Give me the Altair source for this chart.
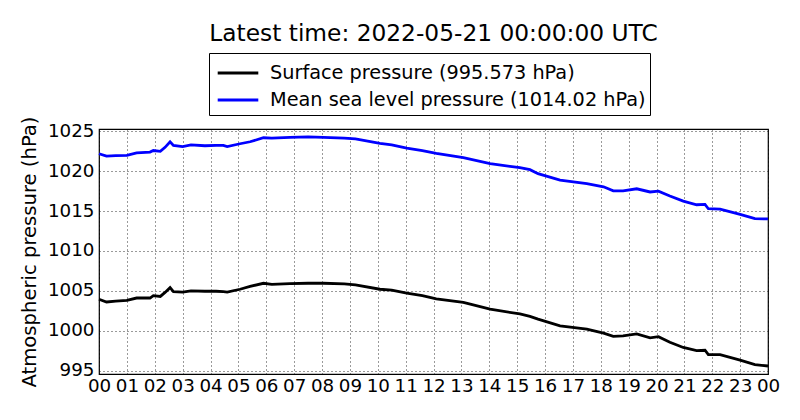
import altair as alt
import pandas as pd

# hours since 2022-05-20 00:00 UTC
hours = [0.0, 0.27, 0.6, 1.0, 1.35, 1.83, 1.95, 2.2, 2.37, 2.55, 2.67, 3.0, 3.3, 3.8,
         4.2, 4.46, 4.6, 5.06, 5.42, 5.9, 6.2, 6.85, 7.5, 8.05, 8.8, 9.2, 10.08, 10.5,
         11.04, 11.6, 12.1, 13.07, 14.03, 15.1, 15.46, 15.75, 16.54, 17.5, 18.1, 18.45,
         18.8, 19.29, 19.77, 20.07, 20.48, 20.96, 21.44, 21.74, 21.86, 22.28, 23.0,
         23.53, 24.0]
msl = [1022.2, 1021.9, 1021.95, 1022.0, 1022.3, 1022.4, 1022.6, 1022.5, 1023.0, 1023.7,
       1023.25, 1023.1, 1023.3, 1023.2, 1023.25, 1023.25, 1023.1, 1023.45, 1023.7, 1024.2,
       1024.15, 1024.25, 1024.3, 1024.25, 1024.15, 1024.05, 1023.5, 1023.3, 1022.9,
       1022.6, 1022.25, 1021.7, 1020.95, 1020.45, 1020.2, 1019.7, 1018.9, 1018.45,
       1018.05, 1017.55, 1017.55, 1017.8, 1017.4, 1017.5, 1016.9, 1016.25, 1015.8,
       1015.85, 1015.3, 1015.25, 1014.6, 1014.05, 1014.02]
surface = [1003.95, 1003.6, 1003.7, 1003.8, 1004.1, 1004.1, 1004.4, 1004.3, 1004.8, 1005.4,
           1004.9, 1004.85, 1005.0, 1004.95, 1004.95, 1004.9, 1004.85, 1005.2, 1005.55,
           1005.95, 1005.8, 1005.9, 1005.95, 1005.95, 1005.87, 1005.75, 1005.2, 1005.1,
           1004.7, 1004.4, 1004.0, 1003.55, 1002.7, 1002.1, 1001.8, 1001.45, 1000.6,
           1000.2, 999.7, 999.3, 999.35, 999.6, 999.1, 999.25, 998.55, 997.9, 997.5,
           997.55, 997.0, 997.0, 996.3, 995.75, 995.573]

names = ["Surface pressure (995.573 hPa)", "Mean sea level pressure (1014.02 hPa)"]
colors = ["black", "#0000ff"]
hour_ticks = list(range(25))
y_ticks = [995, 1000, 1005, 1010, 1015, 1020, 1025]

df = pd.concat([
    pd.DataFrame({"hour": hours, "p": surface, "series": names[0]}),
    pd.DataFrame({"hour": hours, "p": msl, "series": names[1]}),
])

font = "DejaVu Sans"

chart = (
    alt.Chart(df)
    .mark_line(strokeWidth=2.8)
    .encode(
        x=alt.X(
            "hour:Q",
            scale=alt.Scale(domain=[0, 24], nice=False),
            axis=alt.Axis(
                values=hour_ticks,
                labelExpr="datum.value == 24 ? '00' : (datum.value < 10 ? '0' + datum.value : '' + datum.value)",
                title=None,
                labelFontSize=18.3,
                labelPadding=3,
                labelOverlap=False,
                labelFlush=False,
            ),
        ),
        y=alt.Y(
            "p:Q",
            scale=alt.Scale(domain=[994.57, 1025.3], nice=False, zero=False),
            axis=alt.Axis(
                values=y_ticks,
                format="d",
                title="Atmospheric pressure (hPa)",
                titleFontSize=19.6,
                titleFontWeight="normal",
                titlePadding=8,
                labelFontSize=18.3,
                labelPadding=5,
                labelOverlap=False,
                labelFlush=False,
            ),
        ),
        color=alt.Color(
            "series:N",
            scale=alt.Scale(domain=names, range=colors),
            sort=names,
            legend=alt.Legend(
                title=None,
                orient="none",
                legendX=110,
                legendY=-76,
                symbolType="M-1.4,0H1.4",
                symbolStrokeWidth=2.8,
                symbolSize=841,
                symbolOffset=9,
                labelFontSize=19.3,
                labelLimit=500,
                labelOffset=16,
                strokeColor="black",
                fillColor="white",
                padding=4,
                rowPadding=0,
            ),
        ),
        detail="series:N",
    )
    .properties(
        width=669,
        height=245,
        title=alt.TitleParams(
            "Latest time: 2022-05-21 00:00:00 UTC",
            fontSize=23.3,
            fontWeight="normal",
            font=font,
            anchor="middle",
            offset=6,
        ),
        autosize=alt.AutoSizeParams(type="none"),
        padding={"left": 91, "top": 121, "right": 24, "bottom": 38},
    )
    .configure(font=font)
    .configure_view(stroke="black", strokeWidth=1.2)
    .configure_axis(
        ticks=False,
        domain=False,
        grid=True,
        gridColor="black",
        gridDash=[1, 3],
        gridWidth=0.8,
        gridOpacity=1,
        labelColor="black",
        titleColor="black",
        labelFont=font,
        titleFont=font,
    )
    .configure_legend(labelFont=font, labelColor="black")
)

chart.save("out.html", embed_options={"renderer": "svg", "actions": False})
